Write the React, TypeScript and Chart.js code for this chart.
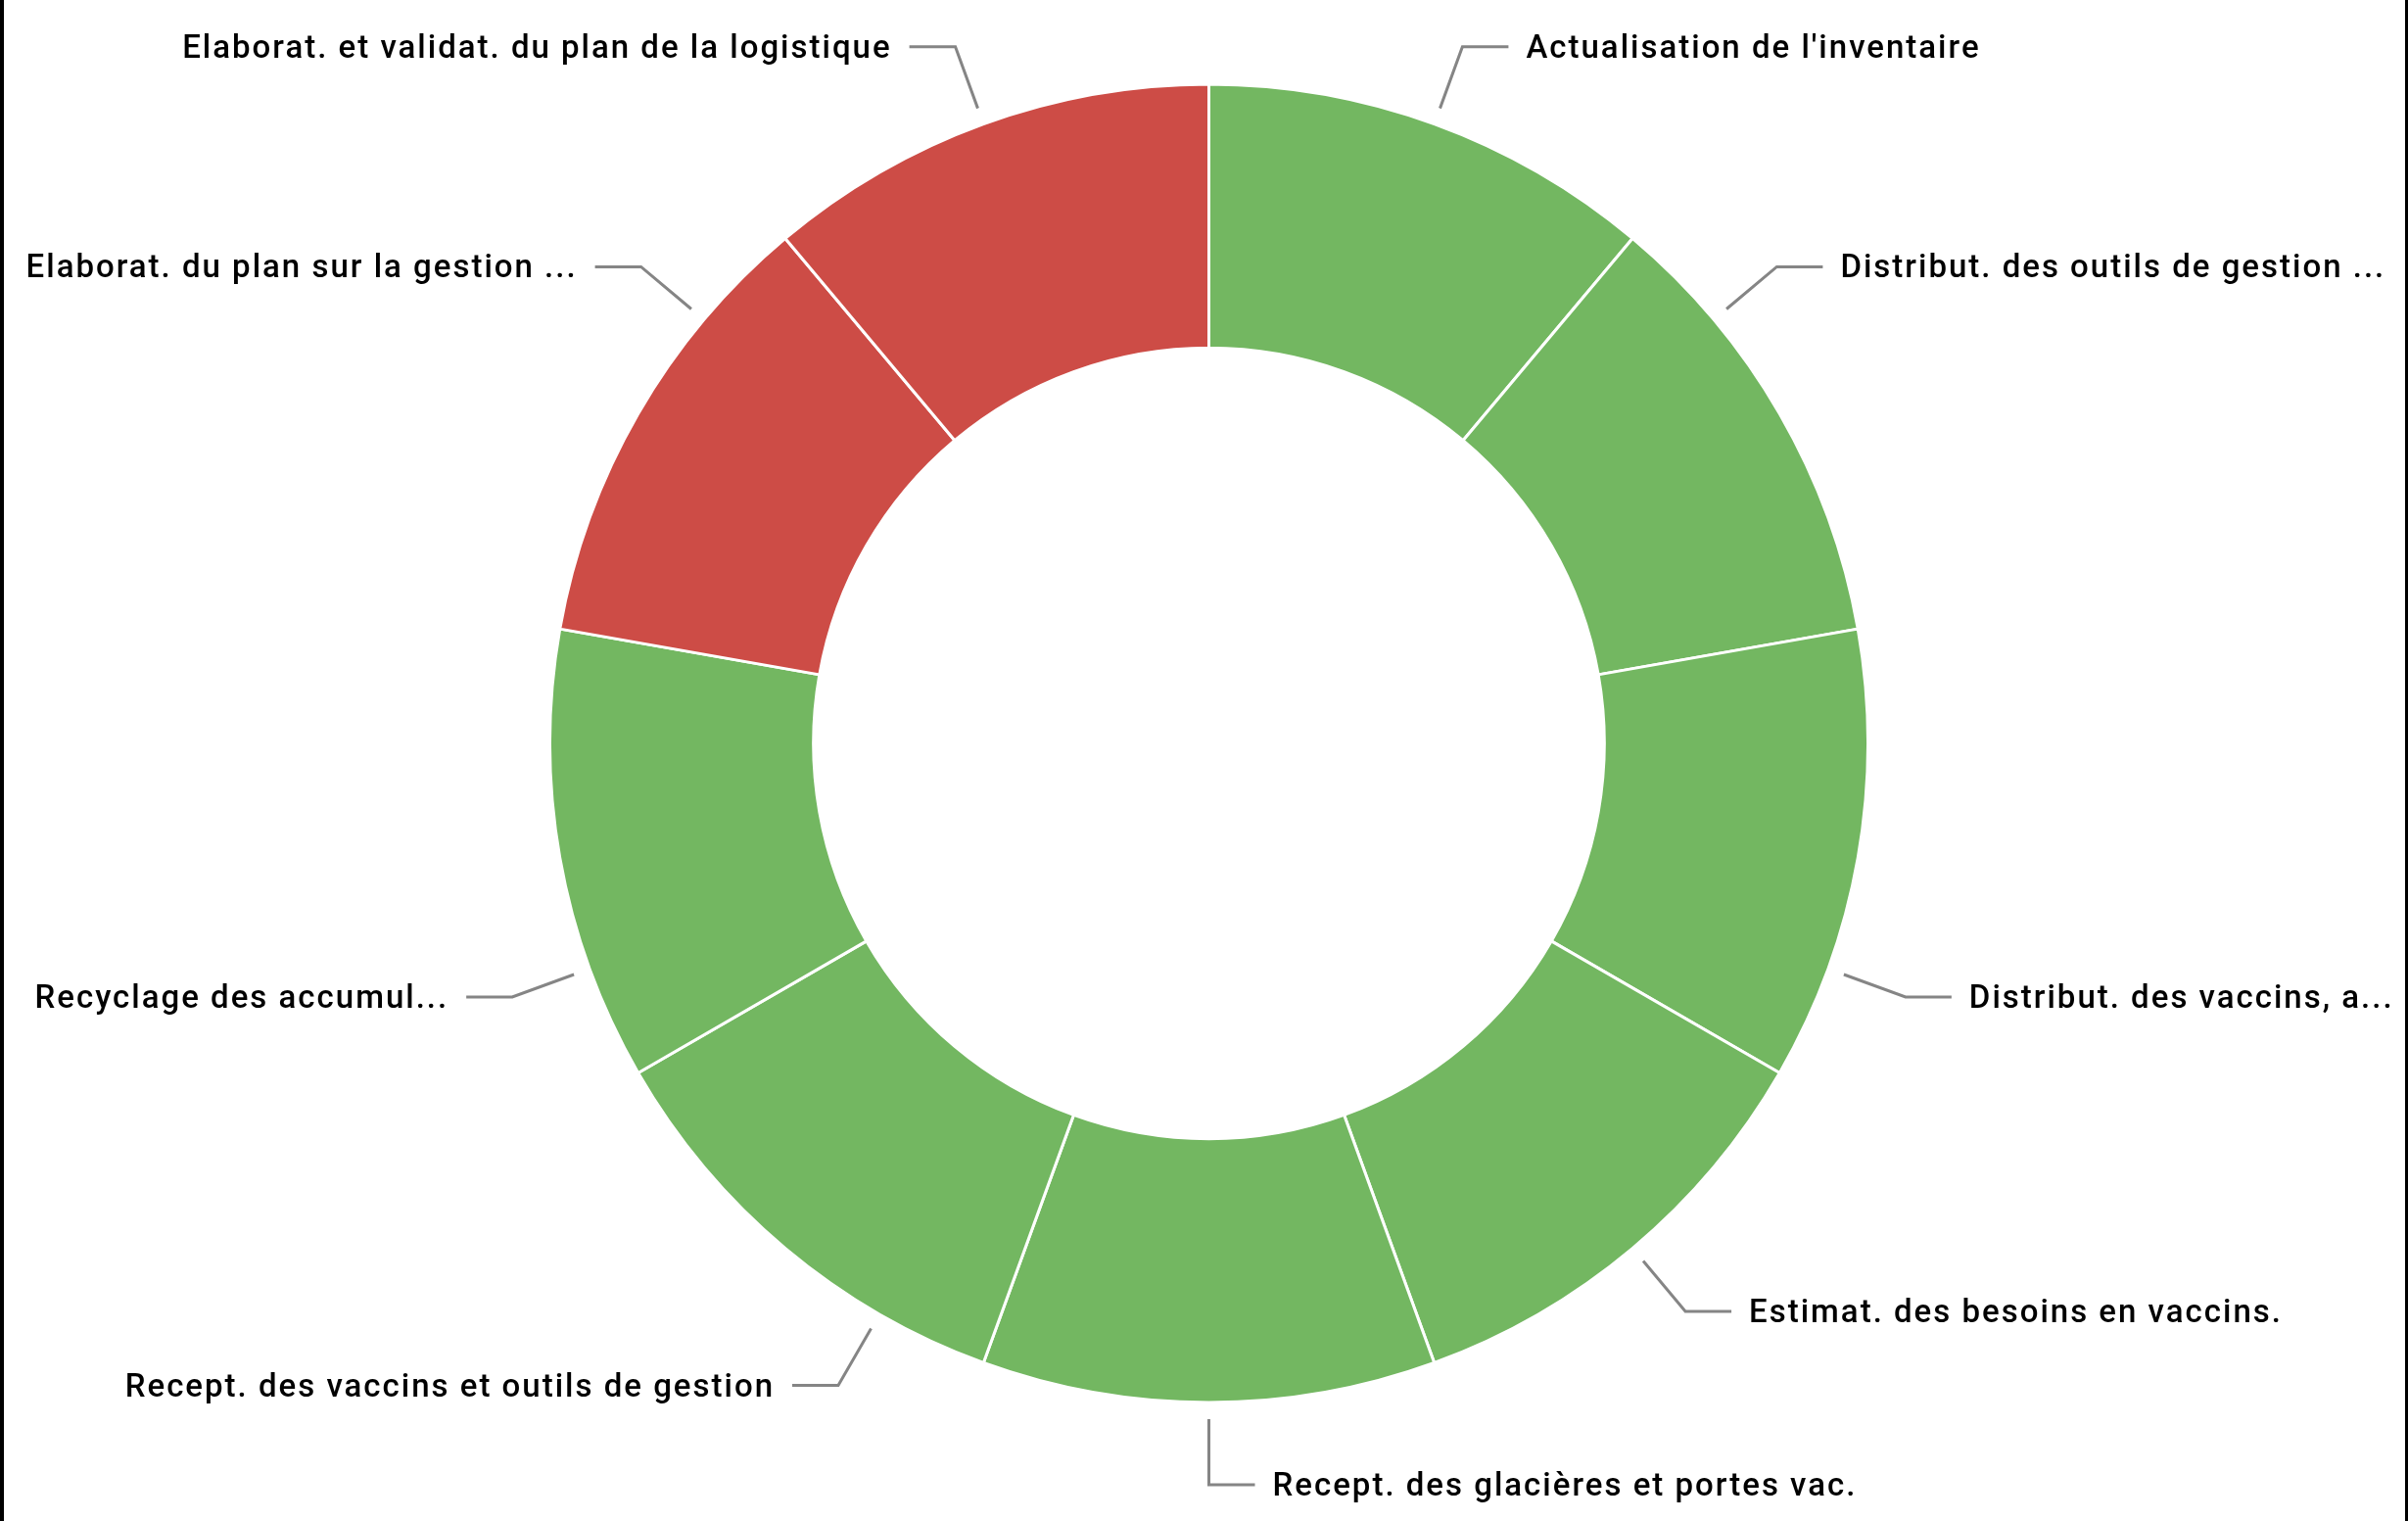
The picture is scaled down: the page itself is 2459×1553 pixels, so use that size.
import React, { useEffect, useRef } from 'react';
import { Chart, registerables } from 'chart.js';

Chart.register(...registerables);

// ---- Data ----
const categories: string[] = [
  "Actualisation de l'inventaire",
  'Distribut. des outils de gestion ...',
  'Distribut. des vaccins, a...',
  'Estimat. des besoins en vaccins.',
  'Recept. des glacières et portes vac.',
  'Recept. des vaccins et outils de gestion',
  'Recyclage des accumul...',
  'Elaborat. du plan sur la gestion ...',
  'Elaborat. et validat. du plan de la logistique',
];
const values: number[] = [1, 1, 1, 1, 1, 1, 1, 1, 1];
const statuses: string[] = ['ok', 'ok', 'ok', 'ok', 'ok', 'ok', 'ok', 'late', 'late'];

// ---- Styles ----
const STATUS_COLORS: Record<string, string> = { ok: '#73B761', late: '#CD4C46' };
const LABEL_ANGLE_OFFSETS_DEG = [0, -10, 10, 0, 0, -10, -10, 10, 0];

const W = 2459;
const H = 1553;

const leaderLabels = {
  id: 'leaderLabels',
  afterDatasetsDraw(chart: any, _args: any, opts: any) {
    const ctx = chart.ctx as CanvasRenderingContext2D;
    const meta = chart.getDatasetMeta(0);
    const labels = chart.data.labels as string[];
    ctx.save();
    meta.data.forEach((arc: any, i: number) => {
      const p = arc.getProps(['x', 'y', 'startAngle', 'endAngle', 'outerRadius'], true);
      const a = (p.startAngle + p.endAngle) / 2 + ((opts.angleOffsets[i] || 0) * Math.PI) / 180;
      const cos = Math.cos(a);
      const sin = Math.sin(a);
      const r1 = p.outerRadius + opts.startGap;
      const r2 = p.outerRadius + opts.elbowGap;
      const x1 = p.x + cos * r1;
      const y1 = p.y + sin * r1;
      const x2 = p.x + cos * r2;
      const y2 = p.y + sin * r2;
      const right = cos >= -1e-6;
      const x3 = x2 + (right ? opts.horizLen : -opts.horizLen);
      ctx.beginPath();
      ctx.moveTo(x1, y1);
      ctx.lineTo(x2, y2);
      ctx.lineTo(x3, y2);
      ctx.lineWidth = opts.lineWidth;
      ctx.strokeStyle = opts.lineColor;
      ctx.lineJoin = 'miter';
      ctx.stroke();

      ctx.font = opts.font;
      try {
        (ctx as any).letterSpacing = opts.letterSpacing;
      } catch (e) {}
      ctx.fillStyle = opts.textColor;
      ctx.textBaseline = 'alphabetic';
      ctx.textAlign = right ? 'left' : 'right';
      const tx = x3 + (right ? opts.textGap : -opts.textGap);
      ctx.fillText(labels[i], tx, y2 + opts.baselineShift);
    });
    ctx.restore();
  },
};

export default function App() {
  const canvasRef = useRef<HTMLCanvasElement | null>(null);

  useEffect(() => {
    const canvas = canvasRef.current;
    if (!canvas) return;
    const chart = new Chart(canvas, {
      type: 'doughnut',
      data: {
        labels: categories,
        datasets: [
          {
            data: values,
            backgroundColor: statuses.map((s) => STATUS_COLORS[s]),
            borderColor: '#ffffff',
            borderWidth: 3,
            hoverOffset: 0,
          },
        ],
      },
      options: {
        responsive: false,
        animation: false,
        cutout: '60%',
        layout: { padding: { left: 560, right: 550, top: 84, bottom: 119 } },
        plugins: {
          legend: { display: false },
          tooltip: { enabled: false },
          leaderLabels: {
            angleOffsets: LABEL_ANGLE_OFFSETS_DEG,
            startGap: 17,
            elbowGap: 84,
            horizLen: 47,
            textGap: 18,
            lineWidth: 3,
            lineColor: '#858585',
            font: '500 33px Roboto',
            letterSpacing: '2px',
            textColor: '#000000',
            baselineShift: 11,
          },
        } as any,
      },
      plugins: [leaderLabels],
    });
    return () => chart.destroy();
  }, []);

  return (
    <div style={{ position: 'absolute', left: 0, top: 0, width: W, height: H, background: '#ffffff' }}>
      <canvas ref={canvasRef} width={W} height={H} style={{ position: 'absolute', left: 0, top: 0, width: W, height: H }} />
      <div style={{ position: 'absolute', left: 0, top: 0, width: 4, height: H, background: '#000' }} />
      <div style={{ position: 'absolute', right: 0, top: 0, width: 3, height: H, background: '#000' }} />
    </div>
  );
}
